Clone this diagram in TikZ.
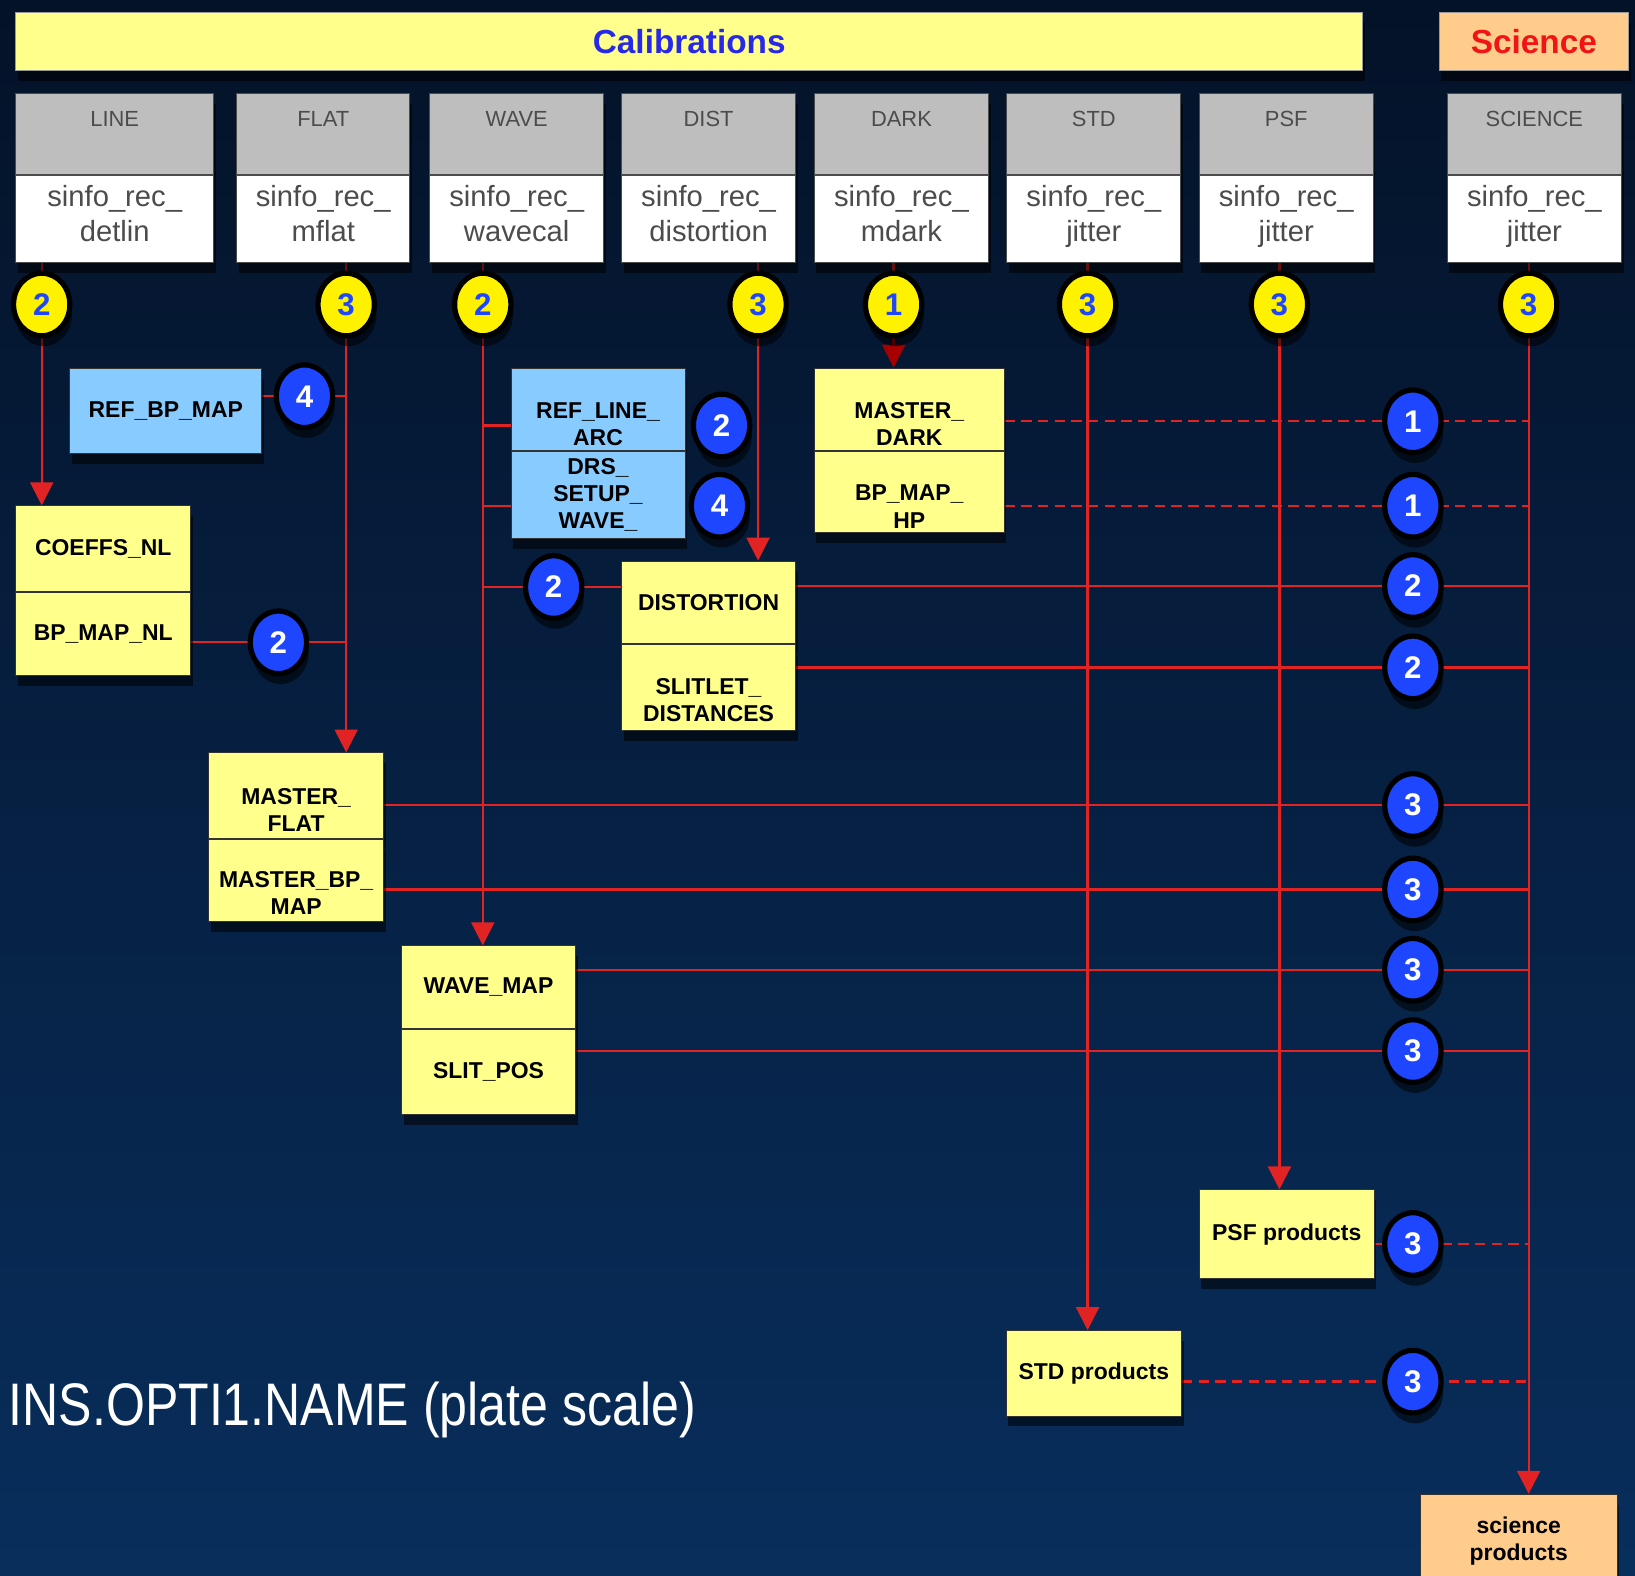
\documentclass[tikz,border=0pt]{standalone}
\usepackage{fontspec}
\setmainfont{Liberation Sans}
\usepackage{graphicx}
\usetikzlibrary{positioning, calc, shapes, shapes.geometric, arrows.meta, shadows, backgrounds}
\pgfdeclarelayer{wires}
\pgfsetlayers{background,wires,main}

\definecolor{navytop}{RGB}{4,18,40}
\definecolor{navybot}{RGB}{8,46,92}
\definecolor{boxyellow}{RGB}{255,255,140}
\definecolor{boxblue}{RGB}{136,204,255}
\definecolor{boxpeach}{RGB}{255,204,140}
\definecolor{hdrgray}{RGB}{190,190,190}
\definecolor{numblue}{RGB}{30,70,255}
\definecolor{wirered}{RGB}{225,35,35}
\definecolor{calblue}{RGB}{40,40,235}
\definecolor{scired}{RGB}{240,20,20}

\begin{document}
\begin{tikzpicture}[x=0.5pt, y=-0.5pt]
        \tikzstyle{shade}=[drop shadow={shadow xshift=1pt, shadow yshift=-5pt, opacity=.55, fill=black}];
        \tikzstyle{banner}=[draw=black!40, rectangle, minimum height=28pt, font=\bfseries\fontsize{16}{16}\selectfont, shade];
        \tikzstyle{hdr}=[draw=black!70, fill=hdrgray, rectangle, minimum width=83.5pt, text height=13.25pt, text depth=20.75pt, inner sep=2.25pt, font=\fontsize{10.5}{12}\selectfont, text=black!70, shade];
        \tikzstyle{rec}=[draw=black!70, fill=white, rectangle, minimum width=83.5pt, minimum height=42pt, align=center, font=\fontsize{14}{16.5}\selectfont, text=black!70, shade];
        \tikzstyle{prod}=[draw=black!80, fill=boxyellow, rectangle, minimum width=83.5pt, align=center, font=\bfseries\fontsize{11}{13}\selectfont, shade];
        \tikzstyle{lbl}=[align=center, font=\bfseries\fontsize{11}{13}\selectfont, yshift=-7pt];
        \tikzstyle{ynum}=[ellipse, draw=black, line width=2.5pt, fill=yellow, minimum width=27pt, minimum height=30pt, inner sep=0pt, text=numblue, font=\bfseries\fontsize{15}{15}\selectfont, shade];
        \tikzstyle{bnum}=[ynum, fill=numblue, text=white];
        \tikzstyle{wire}=[draw=wirered, line width=1.1pt];
        \tikzstyle{feed}=[wire, -{Triangle[length=11pt, width=11pt]}];
        \tikzstyle{opt}=[wire, dash pattern=on 5pt off 3pt];

        % background
        \begin{scope}[on background layer]
        \fill[top color=navytop, bottom color=navybot] (0,0) rectangle (1568,1511);
        \end{scope}
        \useasboundingbox (0,0) rectangle (1568,1511);

        % banners
        \node[banner, fill=boxyellow, minimum width=646pt, text=calblue] (calib) at (661,40) {Calibrations};
        \node[banner, fill=boxpeach, minimum width=91pt, text=scired] (sci) at (1471,40) {Science};

        % recipes
        \node[hdr, minimum width=95pt] (hline) at (110,128.5) {LINE};
        \node[rec, minimum width=95pt, below=0pt of hline] (rline) {sinfo\_rec\_\\detlin\strut};
        \node[hdr, minimum width=83pt] (hflat) at (310,128.5) {FLAT};
        \node[rec, minimum width=83pt, below=0pt of hflat] (rflat) {sinfo\_rec\_\\mflat\strut};
        \node[hdr] (hwave) at (495.5,128.5) {WAVE};
        \node[rec, below=0pt of hwave] (rwave) {sinfo\_rec\_\\wavecal\strut};
        \node[hdr] (hdist) at (679.5,128.5) {DIST};
        \node[rec, below=0pt of hdist] (rdist) {sinfo\_rec\_\\distortion\strut};
        \node[hdr] (hdark) at (864.5,128.5) {DARK};
        \node[rec, below=0pt of hdark] (rdark) {sinfo\_rec\_\\mdark\strut};
        \node[hdr] (hstd) at (1049,128.5) {STD};
        \node[rec, below=0pt of hstd] (rstd) {sinfo\_rec\_\\jitter\strut};
        \node[hdr] (hpsf) at (1233.5,128.5) {PSF};
        \node[rec, below=0pt of hpsf] (rpsf) {sinfo\_rec\_\\jitter\strut};
        \node[hdr] (hsci) at (1471.5,128.5) {SCIENCE};
        \node[rec, below=0pt of hsci] (rsci) {sinfo\_rec\_\\jitter\strut};

        % products
        \node[prod, minimum width=84pt, minimum height=41pt] (coeffs) at (99,526) {COEFFS\_NL};
        \node[prod, minimum width=84pt, minimum height=40pt, below=0pt of coeffs] (bpmapnl) {BP\_MAP\_NL};
        \node[prod, fill=boxblue, minimum width=92pt, minimum height=41pt] (refbp) at (159,394) {REF\_BP\_MAP};
        \node[prod, fill=boxblue, minimum height=39.5pt, label={[lbl]center:REF\_LINE\_\\ARC}] (refline) at (573.5,392.5) {};
        \node[prod, fill=boxblue, minimum height=41pt, below=0pt of refline] (drs) {DRS\_\\SETUP\_\\WAVE\_};
        \node[prod, minimum width=91pt, minimum height=39.5pt, label={[lbl]center:MASTER\_\\DARK}] (mdark) at (872,392.5) {};
        \node[prod, minimum width=91pt, minimum height=39pt, below=0pt of mdark, label={[lbl]center:BP\_MAP\_\\HP}] (hp) {};
        \node[prod, minimum height=39.5pt] (distort) at (679.5,577.5) {DISTORTION};
        \node[prod, minimum height=41.5pt, below=0pt of distort, label={[lbl, yshift=1pt]center:SLITLET\_\\DISTANCES}] (slitlet) {};
        \node[prod, minimum width=84pt, minimum height=41pt, label={[lbl]center:MASTER\_\\FLAT}] (mflat) at (284,763) {};
        \node[prod, minimum width=84pt, minimum height=39.5pt, below=0pt of mflat, label={[lbl, yshift=1pt]center:MASTER\_BP\_\\MAP}] (mbpmap) {};
        \node[prod, minimum height=39.5pt] (wmap) at (468.5,946.5) {WAVE\_MAP};
        \node[prod, minimum height=41pt, below=0pt of wmap] (slitpos) {SLIT\_POS};
        \node[prod, minimum width=84pt, minimum height=42.5pt] (psfprod) at (1234,1183.5) {PSF products};
        \node[prod, minimum width=84pt, minimum height=41pt] (stdprod) at (1049,1317) {STD products};
        \node[prod, fill=boxpeach, minimum width=94.5pt, minimum height=45pt] (sciprod) at (1456.5,1478) {science\\products};

        % recipe numbers
        \node[ynum] (yline) at (40,292) {2};
        \node[ynum] (yflat) at (332,292) {3};
        \node[ynum] (ywave) at (463,292) {2};
        \node[ynum] (ydist) at (727,292) {3};
        \node[ynum] (ydark) at (857,292) {1};
        \node[ynum] (ystd) at (1043,292) {3};
        \node[ynum] (ypsf) at (1227,292) {3};
        \node[ynum] (ysci) at (1466,292) {3};

        % product numbers
        \node[bnum] (n4bp) at (292,380) {4};
        \node[bnum] (n2nl) at (267,616) {2};
        \node[bnum] (n2arc) at (692,408) {2};
        \node[bnum] (n4drs) at (690,485) {4};
        \node[bnum] (n2dist) at (531,563) {2};
        \node[bnum] (r1a) at (1355,404) {1};
        \node[bnum] (r1b) at (1355,485) {1};
        \node[bnum] (r2a) at (1355,562) {2};
        \node[bnum] (r2b) at (1355,640) {2};
        \node[bnum] (r3a) at (1355,772) {3};
        \node[bnum] (r3b) at (1355,853) {3};
        \node[bnum] (r3c) at (1355,930) {3};
        \node[bnum] (r3d) at (1355,1008) {3};
        \node[bnum] (r3e) at (1355,1193) {3};
        \node[bnum] (r3f) at (1355,1325) {3};

        \node[anchor=west, text=white, inner sep=0pt, font=\fontsize{24}{24}\selectfont] (plate) at (8,1352) {\scalebox{1}[1.2]{INS.OPTI1.NAME (plate scale)}};

        \begin{pgfonlayer}{wires}
        \draw[wire] (rline.south -| yline) -- (yline);
        \draw[wire] (rflat.south -| yflat) -- (yflat);
        \draw[wire] (rwave.south -| ywave) -- (ywave);
        \draw[wire] (rdist.south -| ydist) -- (ydist);
        \draw[wire] (rdark.south -| ydark) -- (ydark);
        \draw[wire] (rstd.south -| ystd) -- (ystd);
        \draw[wire] (rpsf.south -| ypsf) -- (ypsf);
        \draw[wire] (rsci.south -| ysci) -- (ysci);

        \draw[feed] (yline) -- (coeffs.north -| yline);
        \draw[feed] (yflat) -- (mflat.north -| yflat);
        \draw[feed] (ywave) -- (wmap.north -| ywave);
        \draw[feed] (ydist) -- (distort.north -| ydist);
        \draw[feed, draw=red!65!black] (ydark) -- (mdark.north -| ydark);
        \draw[feed] (ystd) -- (stdprod.north -| ystd);
        \draw[feed] (ypsf) -- (psfprod.north -| ypsf);
        \draw[feed] (ysci) -- (sciprod.north -| ysci);

        \draw[wire] (refbp.east |- n4bp) -- (n4bp -| yflat);
        \draw[wire] (bpmapnl.east |- n2nl) -- (n2nl -| yflat);
        \draw[wire] (ywave |- n2arc) -- (refline.west |- n2arc);
        \draw[wire] (ywave |- n4drs) -- (drs.west |- n4drs);
        \draw[wire] (ywave |- n2dist) -- (distort.west |- n2dist);

        \draw[opt] (mdark.east |- r1a) -- (ysci |- r1a);
        \draw[opt] (hp.east |- r1b) -- (ysci |- r1b);
        \draw[wire] (distort.east |- r2a) -- (ysci |- r2a);
        \draw[wire] (slitlet.east |- r2b) -- (ysci |- r2b);
        \draw[wire] (mflat.east |- r3a) -- (ysci |- r3a);
        \draw[wire] (mbpmap.east |- r3b) -- (ysci |- r3b);
        \draw[wire] (wmap.east |- r3c) -- (ysci |- r3c);
        \draw[wire] (slitpos.east |- r3d) -- (ysci |- r3d);
        \draw[opt] (psfprod.east |- r3e) -- (ysci |- r3e);
        \draw[opt] (stdprod.east |- r3f) -- (ysci |- r3f);
        \end{pgfonlayer}
\end{tikzpicture}
\end{document}
